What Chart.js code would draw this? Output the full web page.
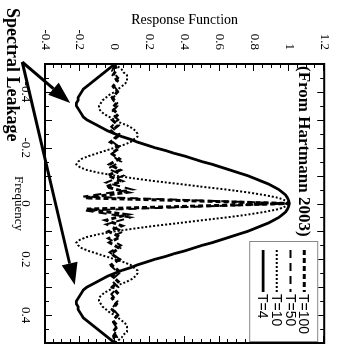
<!DOCTYPE html>
<html>
<head>
<meta charset="utf-8">
<script src="https://cdn.jsdelivr.net/npm/chart.js@4.4.1/dist/chart.umd.min.js"></script>
<style>
  html, body { margin: 0; padding: 0; background: #fff; }
  #page { position: relative; width: 338px; height: 347px; overflow: hidden; }
  /* chart is laid out landscape, then turned a quarter clockwise */
  #turn { position: absolute; left: 0; top: 0; width: 347px; height: 338px;
          transform-origin: 0 0; transform: translate(338px, 0) rotate(90deg); }
</style>
</head>
<body>
<div id="page"><div id="turn"><canvas id="leakChart" width="347" height="338"></canvas></div></div>
<script>
// frequency grid for the T=4 and T=10 curves
const freq = [
  -0.5, -0.49, -0.48, -0.47, -0.46, -0.45, -0.44, -0.43, -0.42, -0.41,
  -0.4, -0.39, -0.38, -0.37, -0.36, -0.35, -0.34, -0.33, -0.32, -0.31,
  -0.3, -0.29, -0.28, -0.27, -0.26, -0.25, -0.24, -0.23, -0.22, -0.21,
  -0.2, -0.19, -0.18, -0.17, -0.16, -0.15, -0.14, -0.13, -0.12, -0.11,
  -0.1, -0.09, -0.08, -0.07, -0.06, -0.05, -0.04, -0.03, -0.02, -0.01,
  0,
  0.01, 0.02, 0.03, 0.04, 0.05, 0.06, 0.07, 0.08, 0.09, 0.1,
  0.11, 0.12, 0.13, 0.14, 0.15, 0.16, 0.17, 0.18, 0.19, 0.2,
  0.21, 0.22, 0.23, 0.24, 0.25, 0.26, 0.27, 0.28, 0.29, 0.3,
  0.31, 0.32, 0.33, 0.34, 0.35, 0.36, 0.37, 0.38, 0.39, 0.4,
  0.41, 0.42, 0.43, 0.44, 0.45, 0.46, 0.47, 0.48, 0.49, 0.5
];
const respT4 = [
  0, -0.02, -0.04, -0.06, -0.08, -0.10, -0.12, -0.14, -0.16, -0.18,
  -0.19, -0.20, -0.21, -0.21, -0.22, -0.22, -0.21, -0.20, -0.19, -0.18,
  -0.16, -0.13, -0.10, -0.07, -0.04, 0, 0.04, 0.09, 0.13, 0.18,
  0.23, 0.29, 0.34, 0.40, 0.45, 0.50, 0.56, 0.61, 0.66, 0.71,
  0.76, 0.80, 0.84, 0.88, 0.91, 0.94, 0.96, 0.98, 0.99, 0.997,
  1,
  0.997, 0.99, 0.98, 0.96, 0.94, 0.91, 0.88, 0.84, 0.80, 0.76,
  0.71, 0.66, 0.61, 0.56, 0.50, 0.45, 0.40, 0.34, 0.29, 0.23,
  0.18, 0.13, 0.09, 0.04, 0, -0.04, -0.07, -0.10, -0.13, -0.16,
  -0.18, -0.19, -0.20, -0.21, -0.22, -0.22, -0.21, -0.21, -0.20, -0.19,
  -0.18, -0.16, -0.14, -0.12, -0.10, -0.08, -0.06, -0.04, -0.02, 0
];
const respT10 = [
  0, 0.02, 0.04, 0.05, 0.07, 0.07, 0.07, 0.06, 0.04, 0.02,
  0, -0.03, -0.05, -0.07, -0.08, -0.09, -0.09, -0.08, -0.06, -0.03,
  0, 0.03, 0.07, 0.10, 0.12, 0.13, 0.13, 0.11, 0.09, 0.05,
  0, -0.05, -0.10, -0.15, -0.19, -0.21, -0.22, -0.20, -0.16, -0.09,
  0, 0.11, 0.23, 0.37, 0.50, 0.64, 0.76, 0.86, 0.94, 0.98,
  1,
  0.98, 0.94, 0.86, 0.76, 0.64, 0.50, 0.37, 0.23, 0.11, 0,
  -0.09, -0.16, -0.20, -0.22, -0.21, -0.19, -0.15, -0.10, -0.05, 0,
  0.05, 0.09, 0.11, 0.13, 0.13, 0.12, 0.10, 0.07, 0.03, 0,
  -0.03, -0.06, -0.08, -0.09, -0.09, -0.08, -0.07, -0.05, -0.03, 0,
  0.02, 0.04, 0.06, 0.07, 0.07, 0.07, 0.05, 0.04, 0.02, 0
];

// coarser grids for the long windows
const freqT100 = [
  -0.5, -0.48, -0.46, -0.44, -0.42, -0.4, -0.38, -0.36, -0.34, -0.32,
  -0.3, -0.28, -0.26, -0.24, -0.22, -0.2, -0.18, -0.16, -0.14, -0.12,
  -0.1, -0.08, -0.06, -0.04, -0.02, 0, 0.02, 0.04, 0.06, 0.08,
  0.1, 0.12, 0.14, 0.16, 0.18, 0.2, 0.22, 0.24, 0.26, 0.28,
  0.3, 0.32, 0.34, 0.36, 0.38, 0.4, 0.42, 0.44, 0.46, 0.48, 0.5
];
const respT100 = [
  0, 0.01, -0.01, 0.015, -0.01, 0.015, -0.015, 0.01, -0.015, 0.02,
  -0.015, 0.02, -0.02, 0.015, -0.025, 0.03, -0.02, 0.025, -0.03, 0.03,
  -0.04, 0.04, -0.05, 0.07, -0.17, 1, -0.16, 0.07, -0.05, 0.04,
  -0.035, 0.03, -0.03, 0.025, -0.02, 0.025, -0.02, 0.02, -0.015, 0.02,
  -0.015, 0.015, -0.015, 0.01, -0.015, 0.015, -0.01, 0.015, -0.01, 0.01, 0
];
const freqT50 = [
  -0.5, -0.475, -0.45, -0.425, -0.4, -0.375, -0.35, -0.325, -0.3, -0.275,
  -0.25, -0.225, -0.2, -0.175, -0.15, -0.125, -0.1, -0.075, -0.05, -0.025,
  0, 0.025, 0.05, 0.075, 0.1, 0.125, 0.15, 0.175, 0.2, 0.225,
  0.25, 0.275, 0.3, 0.325, 0.35, 0.375, 0.4, 0.425, 0.45, 0.475, 0.5
];
const respT50 = [
  0, -0.015, 0.02, -0.01, 0.02, -0.015, 0.015, -0.02, 0.02, -0.02,
  0.025, -0.02, 0.03, -0.025, 0.035, -0.04, 0.05, -0.05, 0.1, -0.18,
  1, -0.17, 0.09, -0.05, 0.05, -0.04, 0.035, -0.03, 0.03, -0.02,
  0.025, -0.02, 0.02, -0.02, 0.015, -0.015, 0.02, -0.01, 0.015, -0.01, 0
];

const freqTicks = [-0.4, -0.2, 0, 0.2, 0.4];
const respTicks = [-0.4, -0.2, 0, 0.2, 0.4, 0.6, 0.8, 1, 1.2];

// "Spectral Leakage" arrows, in (frequency, response) units
const arrowStart = [-0.507, -0.53];
const arrowTips = [[-0.36, -0.256], [0.292, -0.23]];

const pts = (xs, ys) => xs.map((v, i) => ({ x: v, y: ys[i] }));

function drawArrow(ctx, x0, y0, x1, y1) {
  const ang = Math.atan2(y1 - y0, x1 - x0);
  const head = 22, half = 8;
  const bx = x1 - head * Math.cos(ang), by = y1 - head * Math.sin(ang);
  ctx.beginPath();
  ctx.moveTo(x0, y0);
  ctx.lineTo(bx, by);
  ctx.stroke();
  ctx.beginPath();
  ctx.moveTo(x1, y1);
  ctx.lineTo(bx + half * Math.sin(ang), by - half * Math.cos(ang));
  ctx.lineTo(bx - half * Math.sin(ang), by + half * Math.cos(ang));
  ctx.closePath();
  ctx.fill();
}

const decorPlugin = {
  id: 'decor',
  afterDatasetsDraw(chart) {
    const { ctx, chartArea: a, scales: { x, y } } = chart;
    ctx.save();
    ctx.strokeStyle = '#000';
    ctx.fillStyle = '#000';

    // inward tick marks on all four sides
    ctx.lineWidth = 1;
    ctx.beginPath();
    for (let i = -10; i <= 10; i++) {
      const px = Math.round(x.getPixelForValue(i * 0.05)) + 0.5;
      const len = i % 2 === 0 ? 7 : 4;
      ctx.moveTo(px, a.bottom); ctx.lineTo(px, a.bottom - len);
      ctx.moveTo(px, a.top); ctx.lineTo(px, a.top + len);
    }
    for (let i = -8; i <= 24; i++) {
      const py = Math.round(y.getPixelForValue(i * 0.05)) + 0.5;
      const len = i % 4 === 0 ? 7 : 4;
      ctx.moveTo(a.left, py); ctx.lineTo(a.left + len, py);
      ctx.moveTo(a.right, py); ctx.lineTo(a.right - len, py);
    }
    ctx.stroke();

    // frame
    ctx.lineWidth = 2;
    ctx.strokeRect(a.left, a.top, a.right - a.left, a.bottom - a.top);

    // legend box, top right inside the plot
    const bw = 100, bh = 68;
    const bl = a.right - bw - 2, bt = a.top + 6;
    ctx.fillStyle = '#fff';
    ctx.fillRect(bl, bt, bw, bh);
    ctx.lineWidth = 1;
    ctx.strokeStyle = '#888';
    ctx.strokeRect(bl + 0.5, bt + 0.5, bw, bh);
    ctx.strokeStyle = '#000';
    ctx.fillStyle = '#000';
    ctx.font = '14px "Liberation Sans", Arial, sans-serif';
    ctx.textBaseline = 'middle';
    chart.data.datasets.forEach((ds, i) => {
      const ly = bt + 14 + i * 13.7;
      ctx.save();
      ctx.lineWidth = ds.borderWidth;
      ctx.setLineDash(ds.borderDash || []);
      ctx.beginPath();
      ctx.moveTo(bl + 9, ly);
      ctx.lineTo(bl + 51, ly);
      ctx.stroke();
      ctx.restore();
      ctx.fillText(ds.label, bl + 53, ly + 1);
    });

    // source note
    ctx.font = 'bold 17px "Liberation Serif", serif';
    ctx.fillText('(From Hartmann 2003)', a.left + 2, a.top + 21);

    // leakage label and arrows
    ctx.font = 'bold 18px "Liberation Serif", serif';
    ctx.fillText('Spectral Leakage', 8, 326);
    ctx.lineWidth = 3;
    const sx = x.getPixelForValue(arrowStart[0]);
    const sy = y.getPixelForValue(arrowStart[1]);
    arrowTips.forEach(t => {
      drawArrow(ctx, sx, sy, x.getPixelForValue(t[0]), y.getPixelForValue(t[1]));
    });
    ctx.restore();
  }
};

Chart.defaults.font.family = '"Liberation Serif", "Times New Roman", serif';
Chart.defaults.color = '#000';

new Chart(document.getElementById('leakChart'), {
  type: 'line',
  data: {
    datasets: [
      { label: 'T=100', data: pts(freqT100, respT100), borderColor: '#000',
        borderWidth: 3, borderDash: [5, 3] },
      { label: 'T=50', data: pts(freqT50, respT50), borderColor: '#000',
        borderWidth: 2, borderDash: [8, 5] },
      { label: 'T=10', data: pts(freq, respT10), borderColor: '#000',
        borderWidth: 2, borderDash: [2, 2] },
      { label: 'T=4', data: pts(freq, respT4), borderColor: '#000',
        borderWidth: 2.8 }
    ]
  },
  options: {
    responsive: false,
    animation: false,
    devicePixelRatio: 1,
    layout: { padding: { top: 11, right: 4, left: 0, bottom: 0 } },
    elements: { point: { radius: 0 }, line: { tension: 0, fill: false } },
    plugins: { legend: { display: false }, tooltip: { enabled: false } },
    scales: {
      x: {
        type: 'linear', min: -0.5, max: 0.5,
        grid: { display: false }, border: { display: false },
        afterBuildTicks: s => { s.ticks = freqTicks.map(v => ({ value: v })); },
        afterFit: s => { s.height = 45; },
        ticks: { font: { size: 13 }, padding: 4, maxRotation: 0,
                 callback: v => String(v) },
        title: { display: true, text: 'Frequency', font: { size: 13 },
                 padding: { top: 0, bottom: 11 } }
      },
      y: {
        type: 'linear', min: -0.4, max: 1.2,
        grid: { display: false }, border: { display: false },
        afterBuildTicks: s => { s.ticks = respTicks.map(v => ({ value: v })); },
        afterFit: s => { s.width = 64; },
        ticks: { font: { size: 13 }, padding: 6, callback: v => String(v) },
        title: { display: true, text: 'Response Function', font: { size: 14 },
                 padding: { top: 12, bottom: 0 } }
      }
    }
  },
  plugins: [decorPlugin]
});
</script>
</body>
</html>
